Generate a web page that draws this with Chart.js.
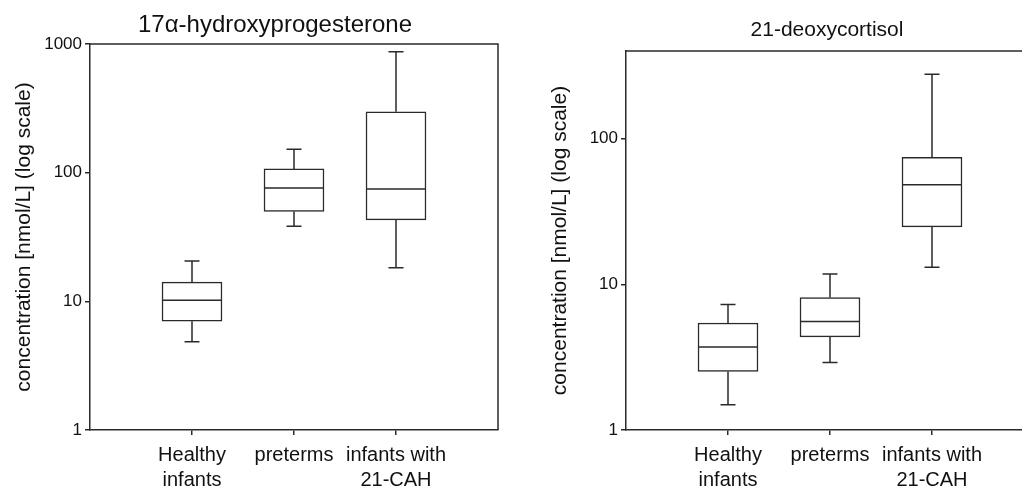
<!DOCTYPE html>
<html>
<head>
<meta charset="utf-8">
<script src="https://cdn.jsdelivr.net/npm/chart.js@4/dist/chart.umd.min.js"></script>
<style>
  body { margin: 0; width: 1022px; height: 489px; overflow: hidden; background: #fff; position: relative; }
  canvas { position: absolute; top: 0; }
  #c1 { left: 0; }
  #c2 { left: 536px; }
</style>
</head>
<body>
<canvas id="c1" width="536" height="489"></canvas>
<canvas id="c2" width="512" height="489"></canvas>
<script>
    // groups (same for both panels)
    var groups = [['Healthy', 'infants'], 'preterms', ['infants with', '21-CAH']];
    var groupPos = [1, 2, 3];

    // 17a-hydroxyprogesterone, nmol/L
    var ohpMin = [4.85, 38.3, 18.2];
    var ohpQ1 = [7.0, 50, 43];
    var ohpMedian = [10.2, 76, 74.5];
    var ohpQ3 = [14.1, 107, 297];
    var ohpMax = [20.6, 152, 870];
    var ohpTicks = [1, 10, 100, 1000];

    // 21-deoxycortisol, nmol/L
    var dfMin = [1.49, 2.91, 13.1];
    var dfQ1 = [2.52, 4.36, 24.8];
    var dfMedian = [3.72, 5.55, 48.2];
    var dfQ3 = [5.43, 8.11, 74.5];
    var dfMax = [7.26, 11.8, 277];
    var dfTicks = [1, 10, 100];

    var ink = '#2a2a2a';
    var font = 'Arial, "Liberation Sans", sans-serif';

    // whiskers, caps, medians, frame and panel title
    var boxPlugin = {
        id: 'boxExtras',
        afterDatasetsDraw: function (chart) {
            var st = chart.options.plugins.boxExtras;
            var xs = chart.scales.x, ys = chart.scales.y;
            var meta = chart.getDatasetMeta(0);
            var c = chart.ctx;
            c.save();
            c.strokeStyle = ink;
            c.lineWidth = 1.5;
            c.beginPath();
            for (var i = 0; i < groupPos.length; i++) {
                var x = xs.getPixelForValue(groupPos[i]);
                var half = meta.data[i].width / 2;
                var cap = 7.5;
                var yMin = ys.getPixelForValue(st.min[i]);
                var yMax = ys.getPixelForValue(st.max[i]);
                var yQ1 = ys.getPixelForValue(st.q1[i]);
                var yQ3 = ys.getPixelForValue(st.q3[i]);
                var yMed = ys.getPixelForValue(st.median[i]);
                c.moveTo(x, yQ3); c.lineTo(x, yMax);
                c.moveTo(x - cap, yMax); c.lineTo(x + cap, yMax);
                c.moveTo(x, yQ1); c.lineTo(x, yMin);
                c.moveTo(x - cap, yMin); c.lineTo(x + cap, yMin);
                c.moveTo(x - half, yMed); c.lineTo(x + half, yMed);
            }
            c.stroke();
            var a = chart.chartArea;
            c.beginPath();
            c.moveTo(a.left, a.top); c.lineTo(a.right, a.top); c.lineTo(a.right, a.bottom);
            c.stroke();
            // title sits a bit left of the plot centre, as in the original figure
            c.fillStyle = '#111';
            c.font = st.titleSize + 'px ' + font;
            c.textAlign = 'center';
            c.textBaseline = 'middle';
            c.fillText(st.title, a.left + st.titleDx, a.top - st.titleDy);
            c.restore();
        }
    };

    function makeChart(id, yMax, ticks, st, padTop, padRight) {
        var boxes = groupPos.map(function (p, i) { return { x: p, y: [st.q1[i], st.q3[i]] }; });
        return new Chart(document.getElementById(id).getContext('2d'), {
            type: 'bar',
            data: {
                datasets: [{
                    data: boxes,
                    backgroundColor: '#fff',
                    borderColor: ink,
                    borderWidth: 1.5,
                    borderSkipped: false,
                    barThickness: 60
                }]
            },
            options: {
                responsive: false,
                animation: false,
                layout: { padding: { top: padTop, right: padRight } },
                scales: {
                    x: {
                        type: 'linear',
                        min: 0,
                        max: 4,
                        offset: false,
                        afterBuildTicks: function (s) { s.ticks = groupPos.map(function (v) { return { value: v }; }); },
                        afterFit: function (s) { s.height = 59; },
                        grid: { offset: false, drawOnChartArea: false, tickLength: 5, color: ink, lineWidth: 1.5 },
                        border: { color: ink, width: 1.5 },
                        ticks: {
                            color: '#111',
                            padding: 8,
                            autoSkip: false,
                            maxRotation: 0,
                            font: { family: font, size: 20, lineHeight: 1.25 },
                            callback: function (v, i) { return groups[i]; }
                        }
                    },
                    y: {
                        type: 'logarithmic',
                        min: 1,
                        max: yMax,
                        afterBuildTicks: function (s) { s.ticks = ticks.map(function (v) { return { value: v }; }); },
                        afterFit: function (s) { s.width = 90; },
                        grid: { drawOnChartArea: false, tickLength: 5, color: ink, lineWidth: 1.5 },
                        border: { color: ink, width: 1.5 },
                        ticks: {
                            color: '#111',
                            padding: 3,
                            font: { family: font, size: 17 },
                            callback: function (v) { return String(v); }
                        },
                        title: {
                            display: true,
                            text: 'concentration [nmol/L] (log scale)',
                            color: '#111',
                            padding: { top: 12, bottom: 0 },
                            font: { family: font, size: 21 }
                        }
                    }
                },
                plugins: {
                    legend: { display: false },
                    tooltip: { enabled: false },
                    title: { display: false },
                    boxExtras: st
                }
            },
            plugins: [boxPlugin]
        });
    }

    makeChart('c1', 1000, ohpTicks,
        { min: ohpMin, q1: ohpQ1, median: ohpMedian, q3: ohpQ3, max: ohpMax,
          title: '17\u03b1-hydroxyprogesterone', titleSize: 24, titleDx: 185, titleDy: 19 }, 44, 38);
    makeChart('c2', 400, dfTicks,
        { min: dfMin, q1: dfQ1, median: dfMedian, q3: dfQ3, max: dfMax,
          title: '21-deoxycortisol', titleSize: 21, titleDx: 201, titleDy: 21 }, 51, 14);
</script>
</body>
</html>
